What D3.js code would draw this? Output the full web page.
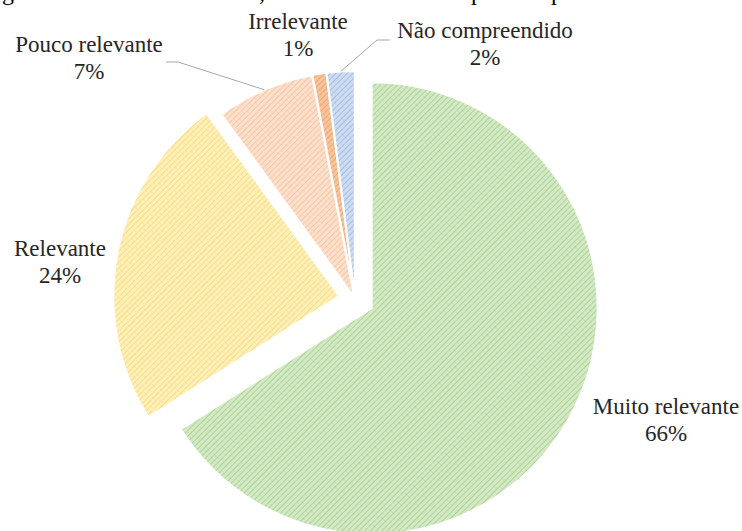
<!DOCTYPE html>
<html>
<head>
<meta charset="utf-8">
<script src="https://cdn.jsdelivr.net/npm/d3@7"></script>
<style>
  body { margin: 0; background: #fff; }
  svg { display: block; }
</style>
</head>
<body>
<svg id="chart" width="742" height="531"></svg>
<script>
// values
const categories = ["Muito relevante", "Relevante", "Pouco relevante", "Irrelevante", "Não compreendido"];
const values = [66, 24, 7, 1, 2];
const percentLabels = ["66%", "24%", "7%", "1%", "2%"];

// cropped line of body text above the chart (only the descenders show)
const topFragments = ["g", ",", "p", "p"];

let svg = d3.select("#chart");

let cx = 355,
  cy = 299,
  radius = 226,
  serif = "'Liberation Serif'";

// per-slice styling: pattern colours and how far each slice is pulled out
let fills = [
  { bg: "#d3e9c6", line: "#a3cf86" },
  { bg: "#fff0b8", line: "#f5d77a" },
  { bg: "#fde0cc", line: "#f6bf98" },
  { bg: "#f8c49e", line: "#ef9e62" },
  { bg: "#cddcf0", line: "#9ab7df" }
];
let explode = [19, 16, 2, 2, 2];

// label placement (centre of first line) and leader lines
let labelPos = [
  { x: 666, y: 414 },
  { x: 60, y: 256 },
  { x: 89, y: 52 },
  { x: 298, y: 29 },
  { x: 485, y: 38 }
];
let leaders = [null, null, [[166, 62], [178, 62]], null, [[390, 40], [377, 40]]];

let defs = svg.append("defs");
fills.forEach((f, i) => {
  let p = defs
    .append("pattern")
    .attr("id", "hatch" + i)
    .attr("patternUnits", "userSpaceOnUse")
    .attr("width", 4)
    .attr("height", 4)
    .attr("patternTransform", "rotate(45)");
  p.append("rect").attr("width", 4).attr("height", 4).attr("fill", f.bg);
  p.append("line")
    .attr("x1", 0).attr("y1", 0)
    .attr("x2", 0).attr("y2", 4)
    .attr("stroke", f.line)
    .attr("stroke-width", 1.6);
});

svg
  .selectAll("text.frag")
  .data(topFragments)
  .enter()
  .append("text")
  .attr("class", "frag")
  .attr("x", (d, i) => [2, 259, 471, 551][i])
  .attr("y", 0)
  .style("font-family", serif)
  .style("font-size", "24px")
  .attr("fill", "#000")
  .text((d) => d);

let pie = d3.pie().sort(null).value((d) => d)(values);

let arc = d3.arc().innerRadius(0).outerRadius(radius);

let offset = function (d, i) {
  let mid = (d.startAngle + d.endAngle) / 2;
  return [Math.sin(mid) * explode[i], -Math.cos(mid) * explode[i]];
};

let g = svg.append("g").attr("transform", `translate(${cx},${cy})`);

g.selectAll("path.slice")
  .data(pie)
  .enter()
  .append("path")
  .attr("class", "slice")
  .attr("transform", (d, i) => {
    let o = offset(d, i);
    return `translate(${o[0]},${o[1]})`;
  })
  .attr("d", arc)
  .attr("fill", (d, i) => `url(#hatch${i})`)
  .attr("stroke", "#fff")
  .attr("stroke-width", 2);

// leader lines end on the outer edge of the slice, at its mid angle
pie.forEach((d, i) => {
  if (!leaders[i]) return;
  let mid = (d.startAngle + d.endAngle) / 2;
  let o = offset(d, i);
  let end = [cx + o[0] + Math.sin(mid) * radius, cy + o[1] - Math.cos(mid) * radius];
  let pts = leaders[i].concat([end]);
  svg
    .append("path")
    .attr("d", d3.line()(pts))
    .attr("fill", "none")
    .attr("stroke", "#a6a6a6")
    .attr("stroke-width", 1);
});

// category name and percentage, as two separate lines
svg
  .selectAll("text.label")
  .data(categories)
  .enter()
  .append("text")
  .attr("class", "label")
  .attr("text-anchor", "middle")
  .attr("x", (d, i) => labelPos[i].x)
  .attr("y", (d, i) => labelPos[i].y)
  .style("font-family", serif)
  .style("font-size", "23px")
  .attr("fill", "#262626")
  .text((d) => d);

svg
  .selectAll("text.pct")
  .data(percentLabels)
  .enter()
  .append("text")
  .attr("class", "pct")
  .attr("text-anchor", "middle")
  .attr("x", (d, i) => labelPos[i].x)
  .attr("y", (d, i) => labelPos[i].y + 27)
  .style("font-family", serif)
  .style("font-size", "23px")
  .attr("fill", "#262626")
  .text((d) => d);
</script>
</body>
</html>
